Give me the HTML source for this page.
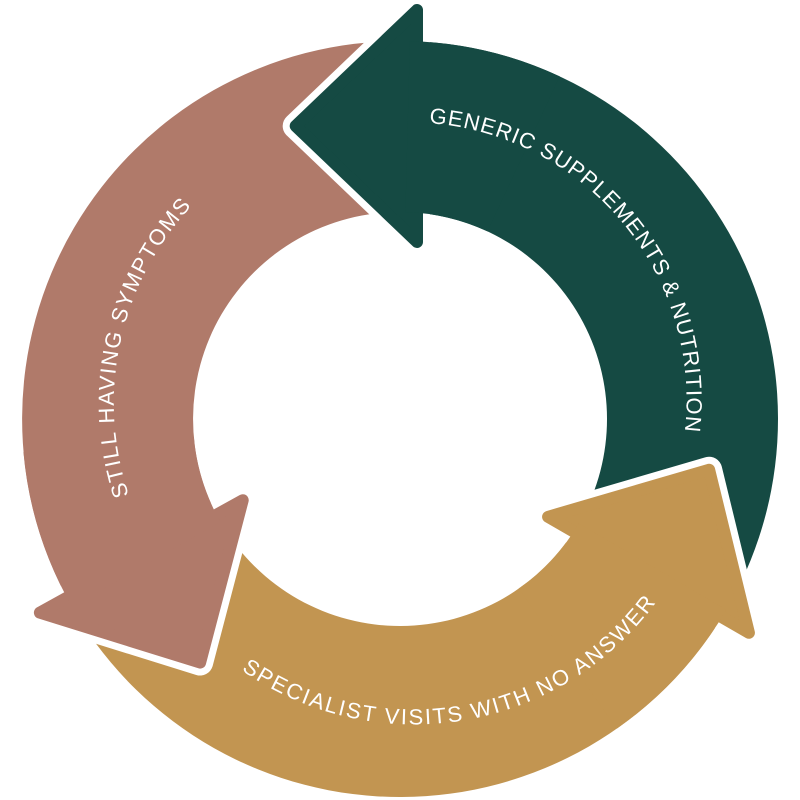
<!DOCTYPE html>
<html>
<head>
<meta charset="utf-8">
<style>
  html,body{margin:0;padding:0;background:#ffffff;}
  svg{display:block;}
  text{font-family:"Liberation Sans", Arial, sans-serif;font-size:22px;fill:#ffffff;}
</style>
</head>
<body>
<svg width="800" height="800" viewBox="0 0 800 800" xmlns="http://www.w3.org/2000/svg">
  <defs>
    <path id="tGreen" d="M235.44,183.09 A277.8,277.8 0 0 1 589.53,611.13"/>
    <path id="tBrown" d="M335.47,683.32 A288.1,288.1 0 0 1 458.70,120.54"/>
    <path id="tGold" d="M118.04,477.82 A300.9,300.9 0 0 0 711.67,379.54"/>
  </defs>
  <rect width="800" height="800" fill="#ffffff"/>

  <!-- bodies -->
  <path fill="#154a43" d="M409.90,41.13 A378,378 0 0 1 729.64,603.99 L580.52,520.30 A207,207 0 0 0 405.42,212.07 Z"/>
  <path fill="#c29551" d="M726.37,609.73 A378,378 0 0 1 75.31,612.55 L222.20,524.99 A207,207 0 0 0 578.72,523.45 Z"/>
  <path fill="#b07a6a" d="M72.09,606.85 A378,378 0 0 1 403.30,41.02 L401.81,212.01 A207,207 0 0 0 220.43,521.87 Z"/>

  <!-- heads -->
  <g transform="translate(423,126) rotate(180)">
    <polygon points="6,-115.96 6,115.96 127.31,0" fill="#ffffff" stroke="#ffffff" stroke-width="26" stroke-linejoin="round"/>
    <polygon points="6,-115.96 6,115.96 127.31,0" fill="#154a43" stroke="#154a43" stroke-width="12" stroke-linejoin="round"/>
  </g>
  <g transform="translate(645.5,580) rotate(-60)">
    <polygon points="6,-115.96 6,115.96 127.31,0" fill="#ffffff" stroke="#ffffff" stroke-width="26" stroke-linejoin="round"/>
    <polygon points="6,-115.96 6,115.96 127.31,0" fill="#c29551" stroke="#c29551" stroke-width="12" stroke-linejoin="round"/>
  </g>
  <g transform="translate(138.4,551.2) rotate(61)">
    <polygon points="6,-115.96 6,115.96 127.31,0" fill="#ffffff" stroke="#ffffff" stroke-width="26" stroke-linejoin="round"/>
    <polygon points="6,-115.96 6,115.96 127.31,0" fill="#b07a6a" stroke="#b07a6a" stroke-width="12" stroke-linejoin="round"/>
  </g>

  <!-- body redraws near heads to hide back-edge strokes -->
  <path fill="#154a43" d="M409.90,41.13 A378,378 0 0 1 559.75,76.41 L487.48,231.39 A207,207 0 0 0 405.42,212.07 Z"/>
  <path fill="#c29551" d="M726.37,609.73 A378,378 0 0 1 616.81,728.64 L518.73,588.56 A207,207 0 0 0 578.72,523.45 Z"/>
  <path fill="#b07a6a" d="M72.09,606.85 A378,378 0 0 1 23.44,451.95 L193.79,437.04 A207,207 0 0 0 220.43,521.87 Z"/>

  <!-- labels -->
  <text letter-spacing="1.0" text-anchor="middle"><textPath href="#tGreen" startOffset="50%">GENERIC SUPPLEMENTS &amp; NUTRITION</textPath></text>
  <text letter-spacing="1.6" text-anchor="middle"><textPath href="#tBrown" startOffset="50%">STILL HAVING SYMPTOMS</textPath></text>
  <text letter-spacing="1.9" text-anchor="middle"><textPath href="#tGold" startOffset="50%">SPECIALIST VISITS WITH NO ANSWER</textPath></text>
</svg>
</body>
</html>
